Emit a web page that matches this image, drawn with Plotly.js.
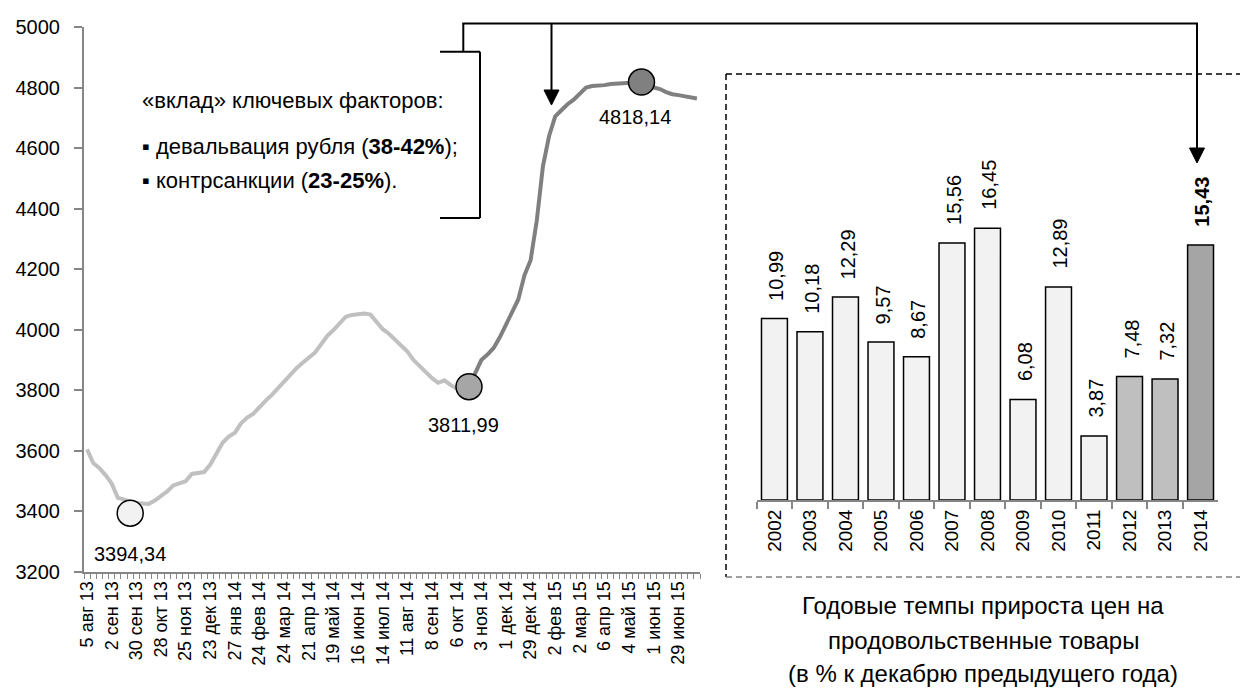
<!DOCTYPE html>
<html>
<head>
<meta charset="utf-8">
<script src="https://cdn.plot.ly/plotly-3.0.1.min.js"></script>
<style>html,body{margin:0;padding:0;background:#fff;}#chart{width:1242px;height:688px;}</style>
</head>
<body>
<div id="chart"></div>
<script>
// ---- data ----
const weekLabels = ['5 авг 13','2 сен 13','30 сен 13','28 окт 13','25 ноя 13','23 дек 13','27 янв 14','24 фев 14','24 мар 14','21 апр 14','19 май 14','16 июн 14','14 июл 14','11 авг 14','8 сен 14','6 окт 14','3 ноя 14','1 дек 14','29 дек 14','2 фев 15','2 мар 15','6 апр 15','4 май 15','1 июн 15','29 июн 15'];
const labelEvery = 4;
const priceIndex = [3605,3560,3543,3520,3492,3445,3440,3432,3428,3425,
  3425,3436,3450,3466,3486,3492,3500,3524,3526,3530,
  3555,3589,3627,3647,3660,3691,3710,3723,3747,3766,
  3785,3808,3828,3851,3873,3891,3906,3925,3952,3980,
  3999,4023,4043,4049,4050,4054,4050,4027,4002,3987,
  3967,3945,3928,3900,3880,3858,3840,3825,3833,3818,
  3805,3805,3812,3860,3900,3918,3940,3975,4015,4060,
  4100,4180,4230,4360,4540,4640,4705,4725,4745,4760,
  4780,4800,4805,4806,4808,4812,4814,4815,4816,4817,
  4818,4812,4800,4795,4785,4778,4775,4772,4768,4764];
const keyIdx = [7, 62, 90];
const keyValues = [3394.34, 3811.99, 4818.14];
const splitIdx = 62;
const years = ['2002','2003','2004','2005','2006','2007','2008','2009','2010','2011','2012','2013','2014'];
const growth = [10.99,10.18,12.29,9.57,8.67,15.56,16.45,6.08,12.89,3.87,7.48,7.32,15.43];

// ---- styles ----
const W = 1242, H = 688;
const FONT = 'Liberation Sans, Arial, sans-serif';
const AX = '#868686';
const barColors = years.map((y,i)=> i===years.length-1 ? '#a5a5a5' : (i>=years.length-3 ? '#bfbfbf' : '#f2f2f2'));
const keyColors = ['#f2f2f2','#a6a6a6','#808080'];
const keyShift = [[0,-41],[-6,-38],[-6,-35]];
const P = x => x / W;
const Q = y => 1 - y / H;
const fmt = v => v.toFixed(2).replace('.', ',');

const idx = priceIndex.map((_, i) => i);
const traces = [
  {x: idx.slice(0, splitIdx + 1), y: priceIndex.slice(0, splitIdx + 1), type:'scatter', mode:'lines',
   line:{color:'#c0c0c0', width:4}, xaxis:'x', yaxis:'y', hoverinfo:'skip'},
  {x: idx.slice(splitIdx), y: priceIndex.slice(splitIdx), type:'scatter', mode:'lines',
   line:{color:'#808080', width:4}, xaxis:'x', yaxis:'y', hoverinfo:'skip'},
  {x: keyIdx, y: keyValues, type:'scatter', mode:'markers',
   marker:{size:26, color:keyColors, line:{color:'#000', width:1.5}}, xaxis:'x', yaxis:'y', hoverinfo:'skip'},
  {x: years, y: growth, type:'bar', marker:{color: barColors, line:{color:'#000', width:1.5}},
   xaxis:'x2', yaxis:'y2', hoverinfo:'skip'}
];

const annotations = [];
keyIdx.forEach((k, j) => annotations.push({x:k, y:keyValues[j], xref:'x', yref:'y', text: fmt(keyValues[j]),
  showarrow:false, xanchor:'center', yanchor:'middle', xshift:keyShift[j][0], yshift:keyShift[j][1],
  font:{size:20, color:'#000', family:FONT}}));
years.forEach((yr, k) => annotations.push({x:k, y:growth[k], xref:'x2', yref:'y2',
  text: k === years.length-1 ? '<b>' + fmt(growth[k]) + '</b>' : fmt(growth[k]),
  textangle:-90, showarrow:false, xanchor:'center', yanchor:'bottom', yshift:16, xshift:2,
  font:{size:20, color:'#000', family:FONT}}));
const txt = (t, x, y, size, anchor) => annotations.push({x:P(x), y:Q(y), xref:'paper', yref:'paper', text:t,
  showarrow:false, xanchor:anchor, yanchor:'middle', font:{size:size, color:'#000', family:FONT}});
txt('«вклад» ключевых факторов:', 140, 100, 22, 'left');
txt('▪ девальвация рубля (<b>38-42%</b>);', 140, 146.7, 22, 'left');
txt('▪ контрсанкции (<b>23-25%</b>).', 140, 180, 22, 'left');
txt('Годовые темпы прироста цен на', 983, 605, 24, 'center');
txt('продовольственные товары', 983, 640, 24, 'center');
txt('(в % к декабрю предыдущего года)', 983, 673, 24, 'center');

const line = (x0,y0,x1,y1,color,dash,width) => ({type:'line', xref:'paper', yref:'paper',
  x0:P(x0), y0:Q(y0), x1:P(x1), y1:Q(y1), line:{color:color||'#000', width:width||2, dash:dash||'solid'}});
const tri = (x, tip) => ({type:'path', xref:'paper', yref:'paper',
  path:`M ${P(x-7.5)} ${Q(tip-15)} L ${P(x+7.5)} ${Q(tip-15)} L ${P(x)} ${Q(tip)} Z`,
  fillcolor:'#000', line:{color:'#000', width:1}});
const shapes = [
  line(463.3, 51.7, 463.3, 23.5),
  line(462.3, 23.5, 1198, 23.5),
  line(440, 51.7, 480, 51.7),
  line(480, 51.7, 480, 218),
  line(440, 218, 480, 218),
  line(551.5, 23.5, 551.5, 92),
  line(1197, 23.5, 1197, 150),
  tri(551.5, 105),
  tri(1197, 163),
  line(726, 74, 1240, 74, '#000', '6px,4px', 1.5),
  line(726, 74, 726, 577, '#000', '6px,4px', 1.5),
  line(726, 577, 1240, 577, '#808080', '6px,4px', 1.5)
];

const layout = {
  width:W, height:H, margin:{l:0, r:0, t:0, b:0},
  paper_bgcolor:'#fff', plot_bgcolor:'rgba(0,0,0,0)', showlegend:false,
  font:{family:FONT, color:'#000'},
  bargap:0.27,
  xaxis:{domain:[P(84), P(700)], range:[-0.5, priceIndex.length-0.5], anchor:'y',
    tickvals: weekLabels.map((_, k) => k*labelEvery), ticktext: weekLabels, tickangle:-90,
    ticks:'', showline:true, linecolor:AX, linewidth:2, showgrid:false, zeroline:false,
    tickfont:{size:18, color:'#000'},
    minor:{tick0:-0.5, dtick:1, ticks:'outside', ticklen:5, tickcolor:AX, tickwidth:1, showgrid:false}},
  yaxis:{domain:[Q(572), Q(27)], range:[3200, 5000], dtick:200, anchor:'x',
    ticks:'outside', ticklen:8, tickcolor:AX, tickwidth:2, showline:true, linecolor:AX, linewidth:2,
    showgrid:false, zeroline:false, tickfont:{size:20, color:'#000'}, ticklabelstandoff:10},
  xaxis2:{domain:[P(756.7), P(1218.3)], type:'category', categoryorder:'array', categoryarray:years,
    range:[-0.5, years.length-0.5], anchor:'y2', tickson:'boundaries',
    ticks:'outside', ticklen:7, tickcolor:AX, tickwidth:2, showline:true, linecolor:AX, linewidth:2,
    tickangle:-90, tickfont:{size:19, color:'#000'}, showgrid:false},
  yaxis2:{domain:[Q(500), Q(500 - 18.5*16.52)], range:[0, 18.5], anchor:'x2', visible:false},
  annotations: annotations,
  shapes: shapes
};
Plotly.newPlot('chart', traces, layout, {staticPlot:true, displayModeBar:false});
</script>
</body>
</html>
